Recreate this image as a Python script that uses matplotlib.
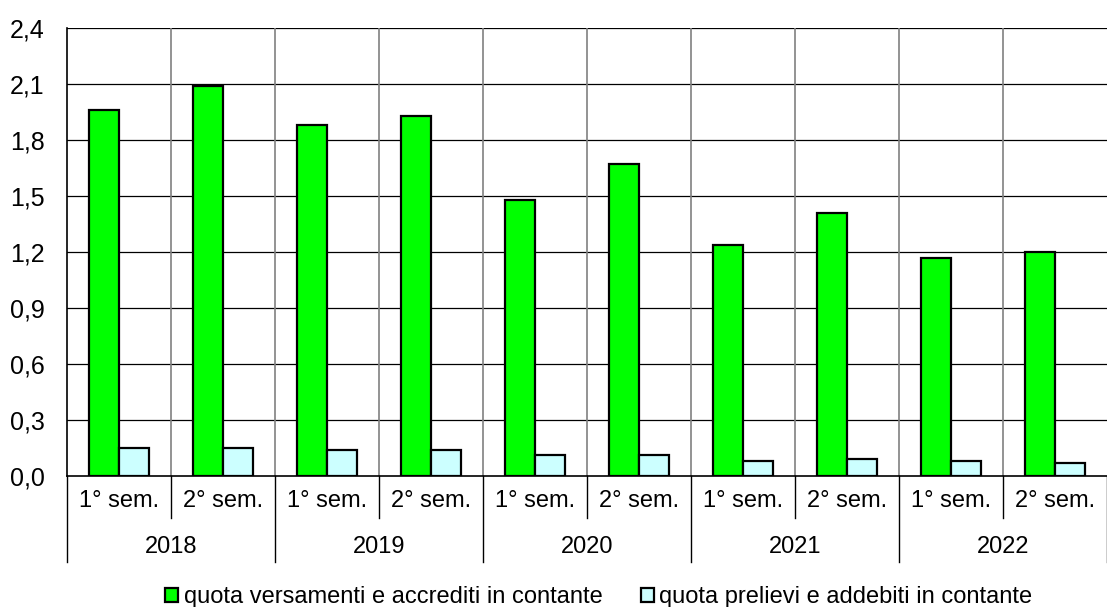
import matplotlib.pyplot as plt
import matplotlib.patches as mpatches
import numpy as np

plt.rcParams['font.family'] = ['Liberation Sans', 'DejaVu Sans']

# data
years = ['2018', '2019', '2020', '2021', '2022']
semesters = ['1° sem.', '2° sem.']
versamenti = [1.96, 2.09, 1.88, 1.93, 1.48, 1.67, 1.24, 1.41, 1.17, 1.20]
prelievi = [0.15, 0.15, 0.14, 0.14, 0.11, 0.11, 0.08, 0.09, 0.08, 0.07]
yticks = [0.0, 0.3, 0.6, 0.9, 1.2, 1.5, 1.8, 2.1, 2.4]
labels = ['quota versamenti e accrediti in contante',
          'quota prelievi e addebiti in contante']

W, H = 1107, 607
fig = plt.figure(figsize=(W / 100, H / 100), dpi=100)
ax = fig.add_axes([67 / W, (H - 476) / H, 1040 / W, 448 / H])

n = len(versamenti)
x = np.arange(n)
bw = 0.29
ax.bar(x - bw / 2, versamenti, bw, color='#00ff00', edgecolor='black', linewidth=1.6, zorder=3)
ax.bar(x + bw / 2, prelievi, bw, color='#ccffff', edgecolor='black', linewidth=1.6, zorder=3)

ax.set_xlim(-0.5, n - 0.5)
ax.set_ylim(0, 2.4)
ax.set_yticks(yticks)
ax.set_yticklabels([f'{v:.1f}'.replace('.', ',') for v in yticks], fontsize=18)
ax.tick_params(axis='y', length=0, pad=16)
ax.set_xticks([])

# grid
for v in yticks[1:]:
    ax.axhline(v, color='black', lw=0.9, zorder=1)
for b in np.arange(0.5, n - 0.5, 1):
    ax.axvline(b, color='#808080', lw=1.2, zorder=1)

for s in ['top', 'right']:
    ax.spines[s].set_visible(False)
ax.spines['left'].set_linewidth(1.2)
ax.spines['bottom'].set_linewidth(1.2)
ax.spines['bottom'].set_zorder(4)

# two-level category axis
trans = ax.get_xaxis_transform()
yb = -42 / 448
yy = -86 / 448
for i in range(n):
    ax.text(i, -25 / 448, semesters[i % 2], transform=trans, ha='center', va='center', fontsize=17)
for j, yr in enumerate(years):
    ax.text(2 * j + 0.5, -71 / 448, yr, transform=trans, ha='center', va='center', fontsize=17)
for b in np.arange(-0.5, n, 1):
    i = int(b + 0.5)
    if i % 2 == 0:
        ax.plot([b, b], [0, yy], transform=trans, color='black', lw=1.0, clip_on=False)
    else:
        ax.plot([b, b], [0, yb], transform=trans, color='black', lw=1.0, clip_on=False)

handles = [mpatches.Patch(facecolor='#00ff00', edgecolor='black', linewidth=1.6),
           mpatches.Patch(facecolor='#ccffff', edgecolor='black', linewidth=1.6)]
fig.legend(handles, labels, loc='center', bbox_to_anchor=(0.541, 10 / H), ncol=2,
           frameon=False, fontsize=17, handlelength=0.55, handleheight=0.55,
           handletextpad=0.25, columnspacing=1.6, borderpad=0)

fig.savefig('out.png', dpi=100)
